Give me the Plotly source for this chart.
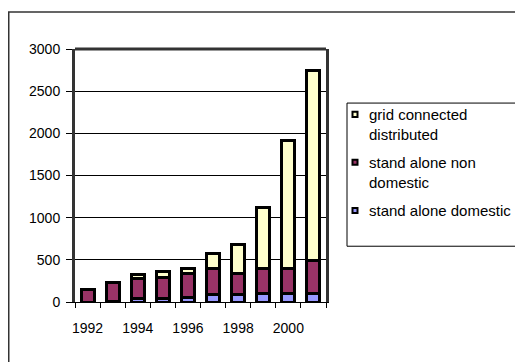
import plotly.graph_objects as go

years = [1992, 1993, 1994, 1995, 1996, 1997, 1998, 1999, 2000, 2001]
stand_alone_domestic = [0, 10, 45, 45, 55, 85, 85, 105, 105, 105]
stand_alone_non_domestic = [145, 225, 230, 250, 280, 310, 250, 290, 290, 390]
grid_connected = [0, 0, 55, 70, 60, 185, 350, 730, 1515, 2245]

series_names = ["stand alone domestic", "stand alone non domestic", "grid connected distributed"]
legend_labels = ["stand alone domestic", "stand alone non<br>domestic", "grid connected<br>distributed"]
series_values = [stand_alone_domestic, stand_alone_non_domestic, grid_connected]
series_colors = ["#9999FF", "#993366", "#FFFFCC"]

year_labels = [1992, 1994, 1996, 1998, 2000]
y_ticks = [0, 500, 1000, 1500, 2000, 2500, 3000]

FONT = "Liberation Sans, Arial, sans-serif"

fig = go.Figure()
for name, vals, col in zip(series_names, series_values, series_colors):
    fig.add_trace(go.Bar(
        x=years, y=vals, name=name,
        marker=dict(color=col, line=dict(color="black", width=3)),
        width=0.52, showlegend=False,
    ))

# page body has an 8px margin: figure coordinates = screen - 8
W, H = 515, 354
L, T = 67, 41
PLOT_R, PLOT_B = 318, 293.7
R, B = W - PLOT_R, H - PLOT_B
pw = PLOT_R - L
ph = PLOT_B - T

def px_x(px):
    return (px - L) / pw

def px_y(py):
    return (PLOT_B - py) / ph

fig.update_layout(
    width=W, height=H,
    margin=dict(l=L, r=R, t=T, b=B, pad=0, autoexpand=False),
    barmode="stack",
    paper_bgcolor="white", plot_bgcolor="white",
    font=dict(family=FONT, size=14, color="black"),
    showlegend=False,
    xaxis=dict(
        range=[1991.5, 2001.5], tickvals=year_labels, ticks="", showgrid=False,
        showline=True, linecolor="black", linewidth=1, zeroline=False,
        ticklabelstandoff=13, automargin=False,
        minor=dict(tickvals=[y - 0.5 for y in years] + [2001.5], ticks="outside",
                   ticklen=5, tickcolor="black", showgrid=False),
    ),
    yaxis=dict(
        range=[0, 3000], tickvals=y_ticks, showgrid=True, gridcolor="black", gridwidth=1,
        ticks="outside", ticklen=6, tickcolor="black", zeroline=False,
        showline=True, linecolor="#333333", linewidth=3, mirror=True,
        ticklabelstandoff=3, automargin=False,
    ),
)

# plot area top border
fig.add_shape(type="line", xref="paper", yref="paper", x0=0, x1=1, y0=1, y1=1,
              line=dict(color="#333333", width=3))
# outer chart border (left and top edges visible)
fig.add_shape(type="rect", xref="paper", yref="paper",
              x0=px_x(0.75), x1=px_x(700), y0=px_y(600), y1=px_y(4),
              line=dict(color="#333333", width=1.5))

# legend box
fig.add_shape(type="rect", xref="paper", yref="paper",
              x0=px_x(339), x1=px_x(510), y0=px_y(238), y1=px_y(95),
              line=dict(color="black", width=1))
legend_order = [2, 1, 0]
square_centers = [106.3, 154.0, 202.3]
text_centers = [116.5, 164.2, 202.3]
for idx, sc, tc in zip(legend_order, square_centers, text_centers):
    fig.add_shape(type="rect", xref="paper", yref="paper",
                  x0=px_x(344.5), x1=px_x(349.5), y0=px_y(sc + 2.5), y1=px_y(sc - 2.5),
                  fillcolor=series_colors[idx], line=dict(color="black", width=2))
    fig.add_annotation(xref="paper", yref="paper", x=px_x(360.3), y=px_y(tc),
                       xanchor="left", yanchor="middle", align="left",
                       text=legend_labels[idx], showarrow=False, borderpad=0,
                       font=dict(family=FONT, size=15, color="black"))

fig.write_html("out.html")
